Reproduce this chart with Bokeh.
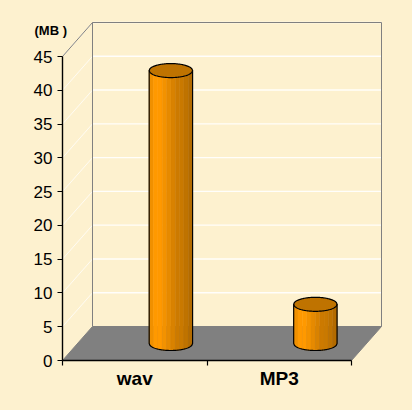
from bokeh.plotting import figure
from bokeh.embed import file_html
from bokeh.resources import INLINE
from bokeh.models import Range1d, LinearAxis, FixedTicker
from bokeh.core.properties import value
import numpy as np

categories = ["wav", "MP3"]
sizes_mb = [40.4, 5.8]
y_ticks = [0, 5, 10, 15, 20, 25, 30, 35, 40, 45]
unit_label = "(MB )"

BG = "#FDF1CF"
FLOOR = "#808080"
WALL = "#808080"
STRIPS = ["#F09000", "#FF9900", "#FF9900", "#F39200", "#E68A00", "#D98200",
          "#CC7A00", "#C97900", "#BF7300", "#B36B00"]
TOP = "#BF7300"

# pixel geometry -> data units
PX_X = 144.5          # px per category
PX_Y = 304 / 45       # px per MB
DX = 30 / PX_X        # depth offset
DY = 34 / PX_Y
YMAX = 45
XMAX = 2

p = figure(width=412, height=410, output_backend="svg", toolbar_location=None,
           x_range=Range1d(-32 / PX_X, 330 / PX_X), y_range=Range1d(-7 / PX_Y, 350 / PX_Y),
           x_axis_type=None, y_axis_type=None,
           min_border_left=30, min_border_right=20, min_border_top=10, min_border_bottom=43,
           background_fill_color=BG, border_fill_color=BG, outline_line_color=None)
p.grid.visible = False

# floor
p.patch([0, XMAX, XMAX + DX, DX], [0, 0, DY, DY], fill_color=FLOOR, line_color=FLOOR, line_width=1)

# gridlines, back wall and side wall
for v in y_ticks[1:]:
    p.line([DX, XMAX + DX], [v + DY, v + DY], line_color="#FFFFFF", line_width=1.4, line_alpha=0.9)
    p.line([0, DX], [v, v + DY], line_color="#FFFFFF", line_width=1, line_alpha=0.75)

# wall outline
p.line([0, DX, DX], [YMAX, YMAX + DY, DY], line_color=WALL, line_width=1)
p.line([DX, XMAX + DX, XMAX + DX], [YMAX + DY, YMAX + DY, DY], line_color=WALL, line_width=1)

# cylinders
RX = 21.7 / PX_X
RY = 7.0 / PX_Y
OFFSET = 0.75
BASE = 17 / PX_Y
n = len(STRIPS)
for i, val in enumerate(sizes_mb):
    cx = i + OFFSET
    top = BASE + val
    edges = np.linspace(-1, 1, n + 1)
    for k in range(n):
        t = np.linspace(edges[k], edges[k + 1], 6)
        arc = RY * np.sqrt(np.clip(1 - t**2, 0, None))
        xs = cx + RX * t
        p.patch(np.r_[xs, xs[::-1]], np.r_[top - arc, (BASE - arc)[::-1]],
                fill_color=STRIPS[k], line_color=STRIPS[k], line_width=0.5)
    t = np.linspace(-1, 1, 61)
    arc = RY * np.sqrt(np.clip(1 - t**2, 0, None))
    xs = cx + RX * t
    # top ellipse
    p.patch(np.r_[xs, xs[::-1]], np.r_[top - arc, (top + arc)[::-1]],
            fill_color=TOP, line_color="#000000", line_width=1.2)
    # body outline
    p.line(np.r_[xs[0], xs, xs[-1]], np.r_[top, BASE - arc, top],
           line_color="#000000", line_width=1.2)

# real axes
yax = LinearAxis(ticker=FixedTicker(ticks=y_ticks), bounds=(0, YMAX), fixed_location=0,
                 axis_line_color="#000000", axis_line_width=1.4,
                 major_tick_line_color="#000000", major_tick_line_width=1.2,
                 major_tick_out=5, major_tick_in=0, minor_tick_out=0, minor_tick_in=0,
                 major_label_text_font="Liberation Sans", major_label_text_font_size="17px",
                 major_label_text_color="#000000", major_label_standoff=5)
p.add_layout(yax, "left")

# category labels sit in the band under the frame
xlab = LinearAxis(ticker=FixedTicker(ticks=[0.5, 1.5]), axis_line_color=None,
                  major_tick_line_color=None, minor_tick_line_color=None,
                  major_tick_out=0, major_tick_in=0, minor_tick_out=0, minor_tick_in=0,
                  major_label_overrides={0.5: categories[0], 1.5: categories[1]},
                  major_label_text_font="Liberation Sans", major_label_text_font_size="19px",
                  major_label_text_font_style="bold", major_label_text_color="#000000",
                  major_label_standoff=0)
p.add_layout(xlab, "below")

# axis line and ticks at zero
xax = LinearAxis(ticker=FixedTicker(ticks=[0, 1, 2]), bounds=(0, XMAX), fixed_location=0,
                 axis_line_color="#000000", axis_line_width=1.4,
                 major_tick_line_color="#000000", major_tick_line_width=1.2,
                 major_tick_out=5, major_tick_in=0, minor_tick_out=0, minor_tick_in=0,
                 major_label_overrides={0: "", 1: "", 2: ""}, major_label_standoff=0)
p.add_layout(xax, "below")

p.text(x=[-28 / PX_X], y=[330 / PX_Y], text=[unit_label],
       text_font=value("Liberation Sans"), text_font_size="13px", text_font_style="bold",
       text_color="#000000", text_align="left", text_baseline="middle")

html = file_html(p, INLINE)
html = html.replace("</head>", f"<style>html,body{{background:{BG};margin:0;overflow:hidden;}}</style></head>", 1)
open("out.html", "w").write(html)
